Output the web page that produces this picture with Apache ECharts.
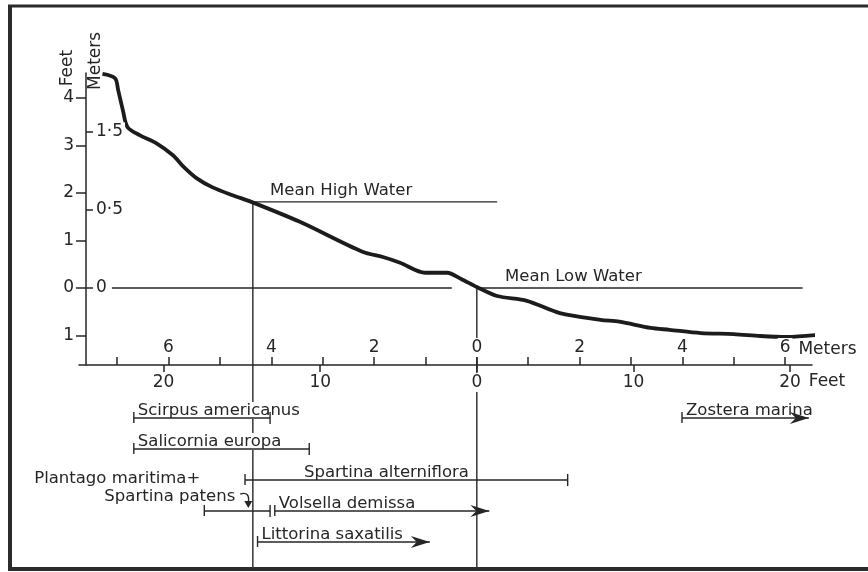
<!DOCTYPE html>
<html>
<head>
<meta charset="utf-8">
<title>Shore profile and zonation</title>
<script src="https://cdn.jsdelivr.net/npm/echarts@6/dist/echarts.min.js"></script>
<style>
html, body { margin:0; padding:0; background:#fff; }
#chart { width:868px; height:572px; }
</style>
</head>
<body>
<div id="chart"></div>
<script>
var FT_PER_M = 3.2808;

// shore profile: distance in feet from mean low water mark (landward < 0), elevation in feet
var profileX = [-23.9, -23.1, -22.9, -22.6, -22.3, -21.5, -20.5, -19.4, -18.7, -17.9, -16.9, -15.6, -14.4, -11.3, -7.3, -6.0, -4.9, -3.3, -1.9, -1.0, 0, 1.3, 3.2, 5.3, 7.9, 9.1, 11.1, 12.3, 14.3, 16.4, 18.1, 19.8, 21.7];
var profileY = [4.50, 4.41, 4.16, 3.74, 3.38, 3.21, 3.05, 2.79, 2.54, 2.31, 2.12, 1.95, 1.81, 1.39, 0.76, 0.65, 0.53, 0.32, 0.32, 0.19, 0.02, -0.17, -0.27, -0.53, -0.67, -0.71, -0.84, -0.88, -0.95, -0.97, -1.01, -1.03, -0.99];

// tidal levels
var levelNames = ['Mean High Water', 'Mean Low Water'];
var levelFeet = [1.81, 0];
var levelMeetX = [-14.3, 0];
var levelLineFrom = [[-14.3], [-23.3, 0]];
var levelLineTo = [[1.3], [-1.6, 20.8]];
var levelLabelX = [-13.2, 1.8];

// axis ticks
var feetTicksX = [-20, -10, 0, 10, 20];
var meterTicksX = [-7, -6, -5, -4, -3, -2, -1, 0, 1, 2, 3, 4, 5, 6];
var meterLabelsX = [-6, -4, -2, 0, 2, 4, 6];
var feetTicksY = [-1, 0, 1, 2, 3, 4];
var meterTicksY = [0, 0.5, 1];
var meterLabelsY = ['0', '0·5', '1·5'];

// species ranges along the shore (feet)
var speciesNames = ['Scirpus americanus', 'Salicornia europa', 'Spartina alterniflora', 'Plantago maritima+\nSpartina patens', 'Volsella demissa', 'Littorina saxatilis', 'Zostera marina'];
var speciesRow = [1, 2, 3, 4, 4, 5, 1];
var speciesFrom = [-21.9, -21.9, -14.8, -17.4, -12.9, -14.0, 13.1];
var speciesTo = [-13.2, -10.7, 5.8, -13.2, 0.8, -3.0, 21.2];
var speciesEnd = ['tick', 'tick', 'tick', 'tick', 'arrow', 'arrow', 'arrow'];

var ink = '#262626';
var font = 'DejaVu Sans';
var xMin = -25.4, xMax = 21.4;
var yMin = -1.62, yMax = 4.52;

var chart = echarts.init(document.getElementById('chart'));

function seg(a, b, w) {
    return {type: 'line', shape: {x1: a[0], y1: a[1], x2: b[0], y2: b[1]}, style: {stroke: ink, lineWidth: w || 1.4}};
}

function renderLevel(params, api) {
    var i = api.value(2);
    var lvl = api.value(1);
    var cs = params.coordSys;
    var kids = [];
    for (var k = 0; k < levelLineFrom[i].length; k++) {
        kids.push(seg(api.coord([levelLineFrom[i][k], lvl]), api.coord([levelLineTo[i][k], lvl])));
    }
    var m = api.coord([api.value(0), lvl]);
    kids.push(seg(m, [m[0], cs.y + cs.height]));
    var t = api.coord([levelLabelX[i], lvl]);
    kids.push({type: 'text', x: t[0], y: t[1] - 3, style: {
        text: levelNames[i], fill: ink, font: '16.5px "' + font + '"', align: 'left', verticalAlign: 'bottom'
    }});
    return {type: 'group', children: kids};
}

function renderGuide(params, api) {
    var cs = params.coordSys;
    var p = api.coord([api.value(0), 0]);
    return seg([p[0], cs.y], [p[0], cs.y + cs.height]);
}

function renderSpecies(params, api) {
    var i = api.value(3);
    var a = api.coord([api.value(0), api.value(2)]);
    var b = api.coord([api.value(1), api.value(2)]);
    var y = a[1];
    var kids = [];
    var txt = {fill: ink, font: '16.5px "' + font + '"', backgroundColor: '#fff', padding: [0, 2]};
    var names = speciesNames[i].split('\n');
    if (names.length > 1) {
        kids.push({type: 'text', x: a[0] - 2, y: y - 32, style: Object.assign({text: names[0], align: 'right', verticalAlign: 'middle'}, txt)});
        kids.push({type: 'text', x: a[0] + 33, y: y - 14, style: Object.assign({text: names[1], align: 'right', verticalAlign: 'middle'}, txt)});
        kids.push({type: 'bezierCurve', shape: {x1: a[0] + 36, y1: y - 17, cpx1: a[0] + 46, cpy1: y - 20, x2: a[0] + 44, y2: y - 8},
            style: {stroke: ink, lineWidth: 1.4, fill: null}});
        kids.push({type: 'polygon', shape: {points: [[a[0] + 40, y - 10], [a[0] + 48, y - 10], [a[0] + 44, y - 3]]}, style: {fill: ink}});
    } else {
        var shift = i === 2 ? 57 : 2;
        kids.push({type: 'text', x: a[0] + shift, y: y + 1, style: Object.assign({text: names[0], align: 'left', verticalAlign: 'bottom'}, txt)});
    }
    kids.push(seg(a, b));
    kids.push(seg([a[0], y - 6], [a[0], y + 5]));
    if (speciesEnd[i] === 'arrow') {
        kids.push({type: 'polygon', shape: {points: [[b[0], y], [b[0] - 19, y - 6], [b[0] - 13, y], [b[0] - 19, y + 6]]}, style: {fill: ink}});
    } else {
        kids.push(seg([b[0], y - 6], [b[0], y + 6]));
    }
    return {type: 'group', children: kids};
}

var numLabel = {color: ink, fontSize: 17, fontFamily: font};

var option = {
    backgroundColor: '#fff',
    animation: false,
    graphic: [
        {type: 'line', z: 10, shape: {x1: 10, y1: 5, x2: 10, y2: 571}, style: {stroke: '#2b2b2b', lineWidth: 4}},
        {type: 'line', z: 10, shape: {x1: 8, y1: 6, x2: 868, y2: 6}, style: {stroke: '#2b2b2b', lineWidth: 3}},
        {type: 'line', z: 10, shape: {x1: 8, y1: 569, x2: 868, y2: 569}, style: {stroke: '#2b2b2b', lineWidth: 4}}
    ],
    grid: [
        {left: 79, width: 733, top: 73, height: 292},
        {left: 79, width: 733, top: 365, height: 203}
    ],
    xAxis: [
        {
            gridIndex: 0, type: 'value', min: xMin, max: xMax, position: 'bottom', z: 5,
            name: 'Feet', nameLocation: 'end', nameGap: -9,
            nameTextStyle: Object.assign({align: 'left', verticalAlign: 'top', padding: [8, 0, 0, 0]}, numLabel),
            axisLine: {show: true, onZero: false, lineStyle: {color: ink, width: 1.5}},
            axisTick: {show: true, inside: false, length: 7, customValues: feetTicksX, lineStyle: {color: ink, width: 1.5}},
            axisLabel: Object.assign({margin: 8, customValues: feetTicksX, backgroundColor: '#fff', padding: [1, 2],
                formatter: function (v) { return Math.abs(v); }}, numLabel),
            splitLine: {show: false}
        },
        {
            gridIndex: 0, type: 'value', min: xMin / FT_PER_M, max: xMax / FT_PER_M, position: 'bottom', z: 5,
            name: 'Meters', nameLocation: 'end', nameGap: -15,
            nameTextStyle: Object.assign({align: 'left', verticalAlign: 'bottom', padding: [0, 0, 7, 0]}, numLabel),
            axisLine: {show: false, onZero: false},
            axisTick: {show: true, inside: true, length: 8, customValues: meterTicksX, lineStyle: {color: ink, width: 1.5}},
            axisLabel: Object.assign({inside: true, margin: 8, customValues: meterLabelsX, backgroundColor: '#fff', padding: [1, 2],
                formatter: function (v) { return Math.abs(v); }}, numLabel),
            splitLine: {show: false}
        },
        {gridIndex: 1, type: 'value', min: xMin, max: xMax, show: false}
    ],
    yAxis: [
        {
            gridIndex: 0, type: 'value', min: yMin, max: yMax, position: 'left', offset: -7, z: 5,
            name: 'Feet', nameLocation: 'end', nameGap: -25, nameRotate: 90,
            nameTextStyle: Object.assign({align: 'left', verticalAlign: 'bottom', padding: [0, 0, 10, 0]}, numLabel),
            axisLine: {show: true, onZero: false, lineStyle: {color: ink, width: 1.5}},
            axisTick: {show: true, inside: false, length: 10, customValues: feetTicksY, lineStyle: {color: ink, width: 1.5}},
            axisLabel: Object.assign({margin: 12, customValues: feetTicksY,
                formatter: function (v) { return Math.abs(v); }}, numLabel),
            splitLine: {show: false}
        },
        {
            gridIndex: 0, type: 'value', min: yMin / FT_PER_M, max: yMax / FT_PER_M, position: 'left', offset: -7, z: 5,
            name: 'Meters', nameLocation: 'end', nameGap: -17, nameRotate: 90,
            nameTextStyle: Object.assign({align: 'left', verticalAlign: 'top', padding: [1, 0, 0, 0]}, numLabel),
            axisLine: {show: false, onZero: false},
            axisTick: {show: true, inside: true, length: 7, customValues: meterTicksY, lineStyle: {color: ink, width: 1.5}},
            axisLabel: Object.assign({inside: true, margin: 8, customValues: meterTicksY, backgroundColor: '#fff', padding: [1, 2],
                formatter: function (v) { return meterLabelsY[meterTicksY.indexOf(v)]; }}, numLabel),
            splitLine: {show: false}
        },
        {gridIndex: 1, type: 'value', min: -0.71, max: 5.84, inverse: true, show: false}
    ],
    series: [
        {
            type: 'custom', xAxisIndex: 0, yAxisIndex: 0, z: 1, clip: false,
            renderItem: renderLevel,
            data: levelNames.map(function (n, i) { return [levelMeetX[i], levelFeet[i], i]; })
        },
        {
            type: 'custom', xAxisIndex: 2, yAxisIndex: 2, z: 1, clip: false,
            renderItem: renderGuide,
            data: levelMeetX.map(function (x) { return [x, 0]; })
        },
        {
            type: 'line', xAxisIndex: 0, yAxisIndex: 0, z: 3, clip: false,
            symbol: 'none', smooth: 0.3,
            lineStyle: {color: '#1c1c1c', width: 3.8},
            data: profileX.map(function (x, i) { return [x, profileY[i]]; })
        },
        {
            type: 'custom', xAxisIndex: 2, yAxisIndex: 2, z: 3, clip: false,
            renderItem: renderSpecies,
            data: speciesNames.map(function (n, i) { return [speciesFrom[i], speciesTo[i], speciesRow[i], i]; })
        }
    ]
};

chart.setOption(option);
</script>
</body>
</html>
